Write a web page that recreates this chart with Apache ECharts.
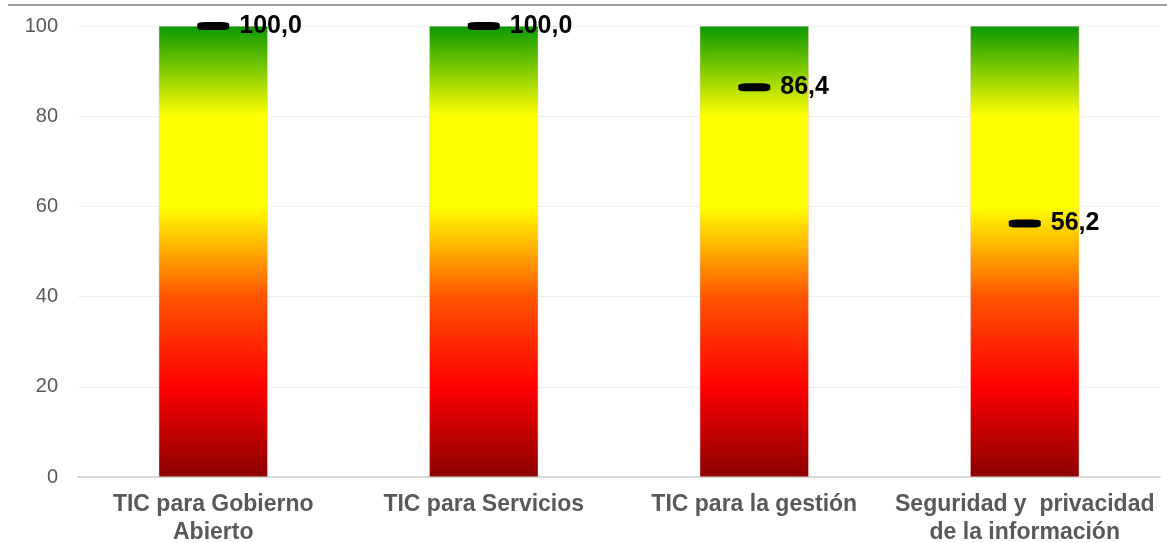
<!DOCTYPE html>
<html>
<head>
<meta charset="utf-8">
<script src="https://cdn.jsdelivr.net/npm/echarts@6/dist/echarts.min.js"></script>
<style>
  html, body { margin: 0; padding: 0; background: #fff; }
  #chart { width: 1167px; height: 543px; }
</style>
</head>
<body>
<div id="chart"></div>
<script>
const categories = [
  'TIC para Gobierno\nAbierto',
  'TIC para Servicios',
  'TIC para la gestión',
  'Seguridad y  privacidad\nde la información'
];
const scaleMax = [100, 100, 100, 100];
const scores = [100.0, 100.0, 86.4, 56.2];
const yTicks = [0, 20, 40, 60, 80, 100];

// traffic-light scale, bottom (0) to top (100)
const gradient = new echarts.graphic.LinearGradient(0, 1, 0, 0, [
  { offset: 0, color: '#8b0000' },
  { offset: 0.2, color: '#ff0000' },
  { offset: 0.4, color: '#ff5500' },
  { offset: 0.6, color: '#ffff00' },
  { offset: 0.8, color: '#ffff00' },
  { offset: 1, color: '#0a9900' }
]);

const chart = echarts.init(document.getElementById('chart'));
chart.setOption({
  animation: false,
  textStyle: { fontFamily: 'Liberation Sans, Arial, sans-serif' },
  graphic: [{
    type: 'line',
    shape: { x1: 8, y1: 5, x2: 1167, y2: 5 },
    style: { stroke: '#7f7f7f', lineWidth: 1.5 }
  }],
  grid: { left: 78, right: 7, top: 26, bottom: 66, outerBoundsMode: 'none' },
  xAxis: {
    type: 'category',
    data: categories,
    axisTick: { show: false },
    axisLine: { lineStyle: { color: '#d9d9d9', width: 2 } },
    axisLabel: {
      color: '#595959',
      fontSize: 23,
      fontWeight: 'bold',
      lineHeight: 28,
      margin: 14,
      interval: 0
    }
  },
  yAxis: {
    type: 'value',
    min: yTicks[0],
    max: yTicks[yTicks.length - 1],
    interval: 20,
    axisLine: { show: false },
    axisTick: { show: false },
    splitLine: { lineStyle: { color: '#efefef', width: 1 } },
    axisLabel: { color: '#595959', fontSize: 20, margin: 20 }
  },
  series: [
    {
      type: 'bar',
      data: scaleMax,
      barWidth: 109,
      itemStyle: { color: gradient, borderColor: '#f2c9c9', borderWidth: 0.5 }
    },
    {
      type: 'scatter',
      data: scores,
      symbol: 'roundRect',
      symbolSize: [32, 8],
      itemStyle: { color: '#000', opacity: 1 },
      label: {
        show: true,
        position: 'right',
        distance: 10,
        color: '#000',
        fontSize: 25,
        fontWeight: 'bold',
        formatter: p => p.value.toFixed(1).replace('.', ',')
      },
      z: 5
    }
  ]
});
</script>
</body>
</html>
